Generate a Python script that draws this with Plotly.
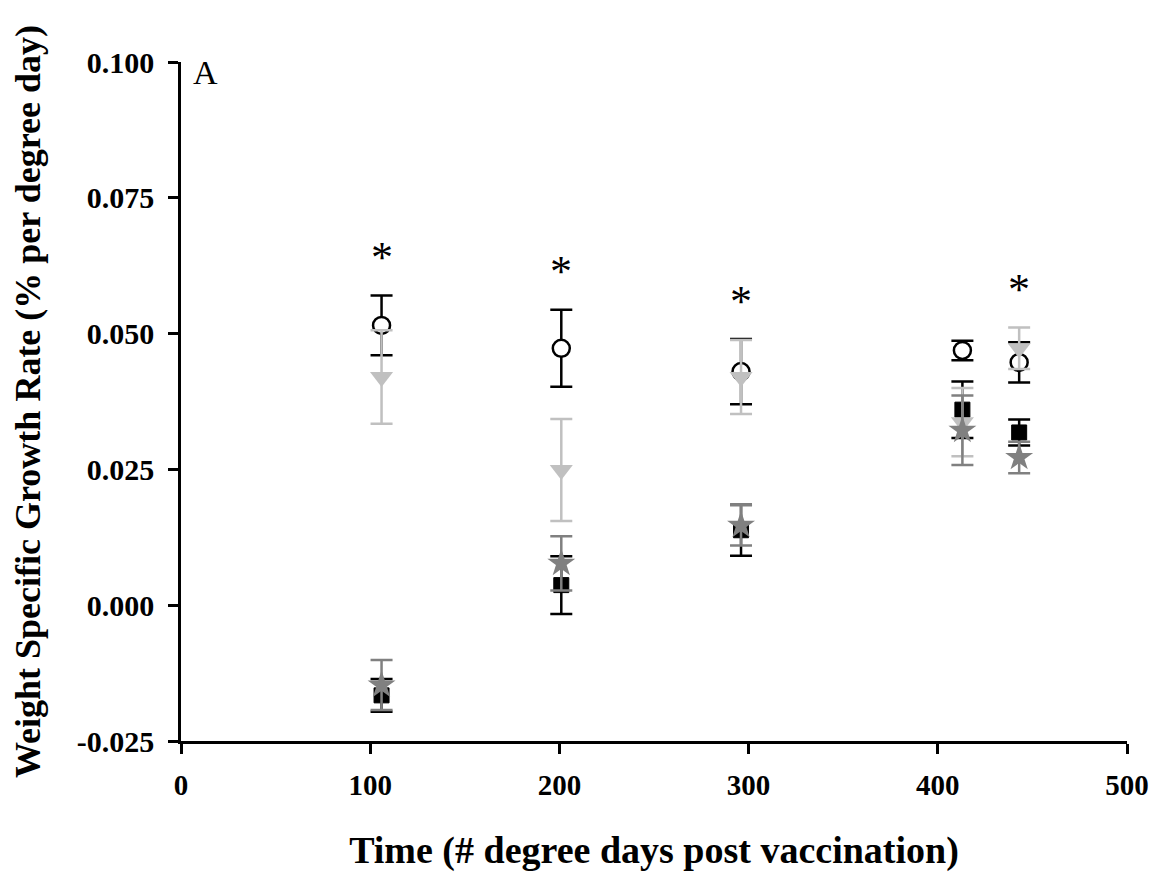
import plotly.graph_objects as go

# Time points (degree days post vaccination)
time_dd = [106, 201, 296, 413, 443]

# Series: mean weight specific growth rate and SE
circle_y = [0.0515, 0.0473, 0.0430, 0.0469, 0.0447]
circle_err = [0.0055, 0.0071, 0.0060, 0.0018, 0.0037]

square_y = [-0.0166, 0.0037, 0.0138, 0.0360, 0.0318]
square_err = [0.0030, 0.0053, 0.0047, 0.0052, 0.0024]

triangle_y = [0.0420, 0.0249, 0.0420, 0.0337, 0.0473]
triangle_err = [0.0086, 0.0094, 0.0068, 0.0063, 0.0038]

star_y = [-0.0147, 0.0077, 0.0147, 0.0322, 0.0272]
star_err = [0.0046, 0.0050, 0.0037, 0.0064, 0.0029]

# Significance markers (index of time points)
sig_idx = [0, 1, 2, 4]
sig_label = "*"
sig_offset = 0.0070

x_ticks = [0, 100, 200, 300, 400, 500]
y_ticks = [-0.025, 0.000, 0.025, 0.050, 0.075, 0.100]

FONT = "Liberation Serif, Times New Roman, serif"

fig = go.Figure()

def add_series(y, err, symbol, color, fill, size, lw=2):
    fig.add_trace(go.Scatter(
        x=time_dd, y=y, mode="markers",
        marker=dict(symbol=symbol, size=size, color=fill,
                    line=dict(color=color, width=lw)),
        error_y=dict(type="data", array=err, visible=True,
                     color=color, thickness=2.5, width=11),
        showlegend=False,
    ))

add_series(circle_y, circle_err, "circle", "black", "white", 17, 2.5)
add_series(square_y, square_err, "square", "black", "black", 15, 1)
add_series(triangle_y, triangle_err, "triangle-down", "#c0c0c0", "#c0c0c0", 20, 0)
add_series(star_y, star_err, "star", "#808080", "#808080", 21, 0)

all_series = [(circle_y, circle_err), (square_y, square_err),
              (triangle_y, triangle_err), (star_y, star_err)]
for i in sig_idx:
    top = max(s[0][i] + s[1][i] for s in all_series)
    fig.add_annotation(x=time_dd[i], y=top + sig_offset, text=sig_label,
                       showarrow=False, font=dict(family=FONT, size=44, color="black"),
                       yanchor="middle")

fig.add_annotation(x=0, y=0.100, xref="x", yref="y", text="A", showarrow=False,
                   xanchor="left", yanchor="middle", xshift=10, yshift=-10,
                   font=dict(family=FONT, size=34, color="black"))

# page body adds an 8px margin, so the figure is sized/offset to compensate
fig.update_layout(
    width=1153, height=865,
    margin=dict(l=173, r=34, t=54, b=132),
    plot_bgcolor="white", paper_bgcolor="white",
    font=dict(family=FONT, color="black"),
    showlegend=False,
)
fig.update_xaxes(
    range=[0, 500], tickvals=x_ticks, ticktext=[str(v) for v in x_ticks],
    showline=True, linecolor="black", linewidth=2.5, ticks="outside",
    tickcolor="black", tickwidth=2.5, ticklen=10, showgrid=False, zeroline=False,
    automargin=False, ticklabelstandoff=6,
    tickfont=dict(family=FONT, size=29, color="black", weight="bold"),
    title=dict(text="Time (# degree days post vaccination)", standoff=37,
               font=dict(family=FONT, size=38, color="black", weight="bold")),
)
fig.update_yaxes(
    range=[-0.025, 0.100], tickvals=y_ticks, ticktext=[f"{v:.3f}" for v in y_ticks],
    showline=True, linecolor="black", linewidth=2.5, ticks="outside",
    tickcolor="black", tickwidth=2.5, ticklen=10, showgrid=False, zeroline=False,
    automargin=False, ticklabelstandoff=8,
    tickfont=dict(family=FONT, size=30, color="black", weight="bold"),
    title=dict(text="Weight Specific Growth Rate (% per degree day)", standoff=33,
               font=dict(family=FONT, size=36, color="black", weight="bold")),
)

fig.write_html("out.html")
